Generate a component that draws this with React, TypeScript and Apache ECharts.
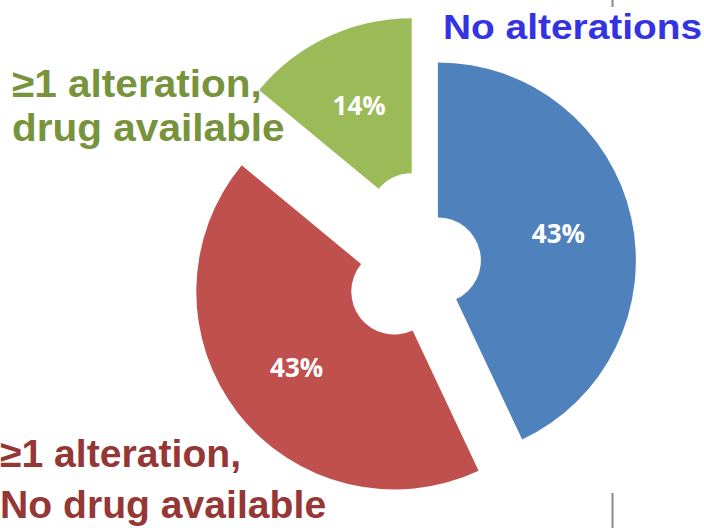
import React, { useEffect, useRef } from "react";
import * as echarts from "echarts";

// Share of tumours by alteration / drug availability status
const categories = [
  "No alterations",
  "≥1 alteration, No drug available",
  "≥1 alteration, drug available",
];
const shares = [43, 43, 14];
// how far each slice is pulled away from the common centre (px)
const explodeOffsets = [5, 49, 50];
const sliceColors = ["#4F81BD", "#C0504D", "#9BBB59"];

// Category captions, one entry per text line
const captionLines = [
  ["No alterations"],
  ["≥1 alteration,", "No drug available"],
  ["≥1 alteration,", "drug available"],
];
const captionColors = ["#3333E4", "#953735", "#77933C"];

const PIE_CENTER: [number, number] = [433, 261.5];
const PIE_RADIUS: [number, number] = [43, 198];

// baseline position / size / horizontal stretch for each caption line
const captionLayout = [
  [{ x: 443, base: 38.5, size: 36, sx: 1.08 }],
  [
    { x: 0, base: 467, size: 38, sx: 1.03 },
    { x: 0, base: 518, size: 38, sx: 1.03 },
  ],
  [
    { x: 12, base: 97, size: 39, sx: 1.04 },
    { x: 12, base: 141, size: 39, sx: 1.04 },
  ],
];

function buildOption(): echarts.EChartsOption {
  const series = categories.map((_, k) => ({
    type: "pie" as const,
    center: PIE_CENTER,
    radius: PIE_RADIUS,
    startAngle: 90,
    clockwise: true,
    selectedMode: "single" as const,
    selectedOffset: explodeOffsets[k],
    silent: true,
    avoidLabelOverlap: false,
    emphasis: { disabled: true },
    labelLine: { show: false },
    label: {
      position: "inside" as const,
      formatter: "{c}%",
      color: "#ffffff",
      fontFamily: "'Open Sans', 'DejaVu Sans', sans-serif",
      fontWeight: "bold" as const,
      fontSize: 26,
    },
    data: categories.map((name, i) => ({
      name,
      value: shares[i],
      selected: i === k,
      itemStyle: {
        color: i === k ? sliceColors[i] : "rgba(0,0,0,0)",
        borderWidth: 0,
      },
      label: { show: i === k },
    })),
  }));

  const texts: any[] = [];
  captionLines.forEach((lines, c) => {
    lines.forEach((line, j) => {
      const l = captionLayout[c][j];
      texts.push({
        type: "text",
        x: l.x,
        y: l.base - 0.3465 * l.size,
        scaleX: l.sx,
        silent: true,
        style: {
          text: line,
          x: 0,
          y: 0,
          align: "left",
          verticalAlign: "middle",
          fill: captionColors[c],
          font: `bold ${l.size}px "Liberation Sans", Arial, sans-serif`,
        },
      });
    });
  });

  // thin grey rules at the frame edge
  const rules = [
    { y1: 0, y2: 7 },
    { y1: 493, y2: 528 },
  ].map((r) => ({
    type: "line",
    silent: true,
    shape: { x1: 612.5, y1: r.y1, x2: 612.5, y2: r.y2 },
    style: { stroke: "#8a8a8a", lineWidth: 2 },
  }));

  return {
    animation: false,
    backgroundColor: "#ffffff",
    series,
    graphic: [...rules, ...texts],
  };
}

export default function App() {
  const ref = useRef<HTMLDivElement>(null);
  useEffect(() => {
    if (!ref.current) return;
    const chart = echarts.init(ref.current, undefined, { renderer: "svg" });
    chart.setOption(buildOption());
    return () => chart.dispose();
  }, []);
  return (
    <div
      ref={ref}
      style={{ position: "fixed", left: 0, top: 0, width: 704, height: 528 }}
    />
  );
}
